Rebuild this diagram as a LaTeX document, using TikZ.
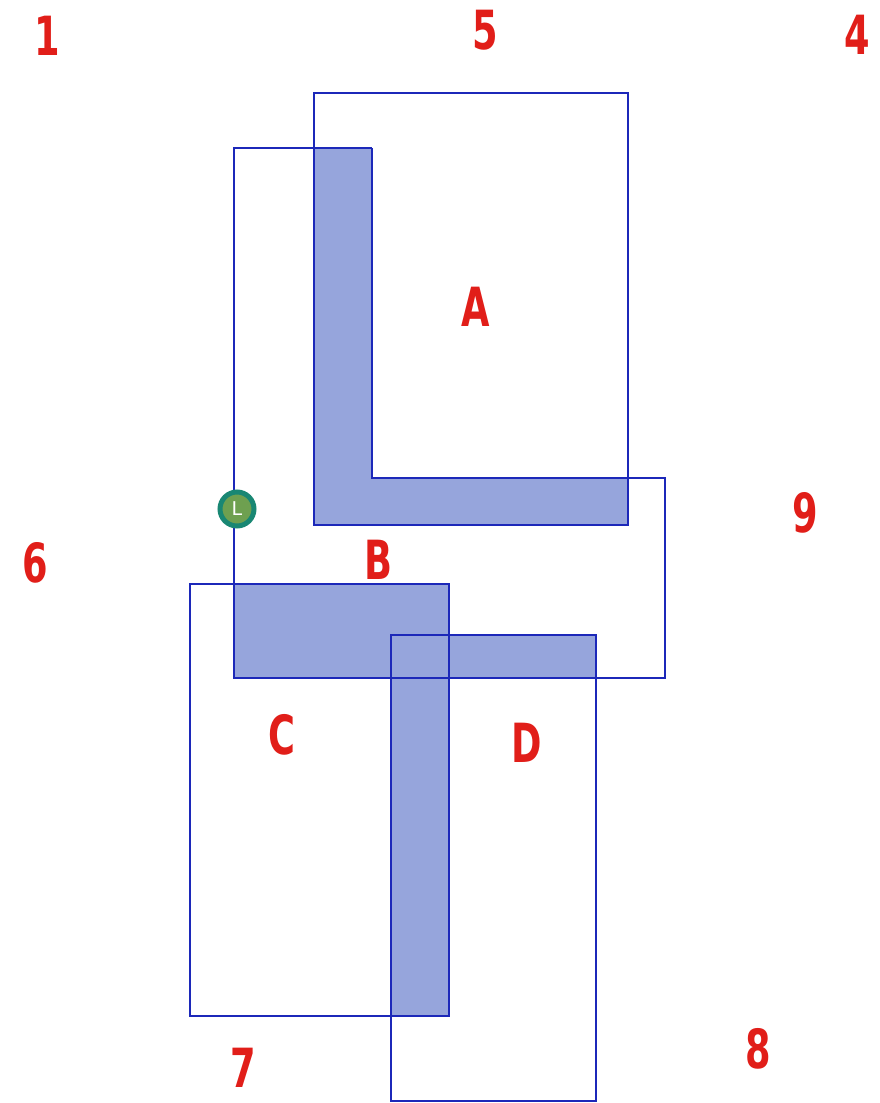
\documentclass[tikz,border=0pt]{standalone}
\usepackage{fontspec}
\setmainfont{DejaVu Sans}
\definecolor{ink}{RGB}{28,40,185}
\definecolor{shade}{RGB}{150,165,220}
\definecolor{lab}{RGB}{225,30,25}
\definecolor{ring}{RGB}{25,135,115}
\definecolor{dot}{RGB}{110,160,80}
\begin{document}
\begin{tikzpicture}[x=1pt,y=-1pt,
  wall/.style={draw=ink,line width=1.8pt},
  band/.style={fill=shade},
  lbl/.style={text=lab,font=\fontsize{54}{54}\selectfont\bfseries,xscale=0.68,inner sep=0pt}]
\useasboundingbox (0,0) rectangle (879,1103);
% shaded bands
\fill[band] (314,148) -- (372,148) -- (372,478) -- (628,478) -- (628,525) -- (314,525) -- cycle;
\fill[band] (234,584) rectangle (449,678);
\fill[band] (391,635) rectangle (596,678);
\fill[band] (391,635) rectangle (449,1016);
% A
\draw[wall] (314,93) rectangle (628,525);
\draw[wall] (372,148) -- (372,478) -- (628,478);
% B
\draw[wall] (372,148) -- (234,148) -- (234,678) -- (665,678) -- (665,478) -- (628,478);
% C and D
\draw[wall] (190,584) rectangle (449,1016);
\draw[wall] (391,635) rectangle (596,1101);
\draw[wall] (449,635) -- (596,635);
% labels
\node[lbl] (n1) at (47,36) {1};
\node[lbl] (n5) at (485,30) {5};
\node[lbl] (n4) at (857,35) {4};
\node[lbl] (nA) at (476,307) {A};
\node[lbl] (n9) at (805,513) {9};
\node[lbl] (n6) at (35,563) {6};
\node[lbl] (nB) at (378,560) {B};
\node[lbl] (nC) at (282,735) {C};
\node[lbl] (nD) at (527,743) {D};
\node[lbl] (n7) at (243,1068) {7};
\node[lbl] (n8) at (758,1049) {8};
% marker
\node[circle,fill=dot,draw=ring,line width=5pt,minimum size=34pt,inner sep=0pt,text=white,font=\fontsize{19}{19}\selectfont] (L) at (237,509) {L};
\end{tikzpicture}
\end{document}
